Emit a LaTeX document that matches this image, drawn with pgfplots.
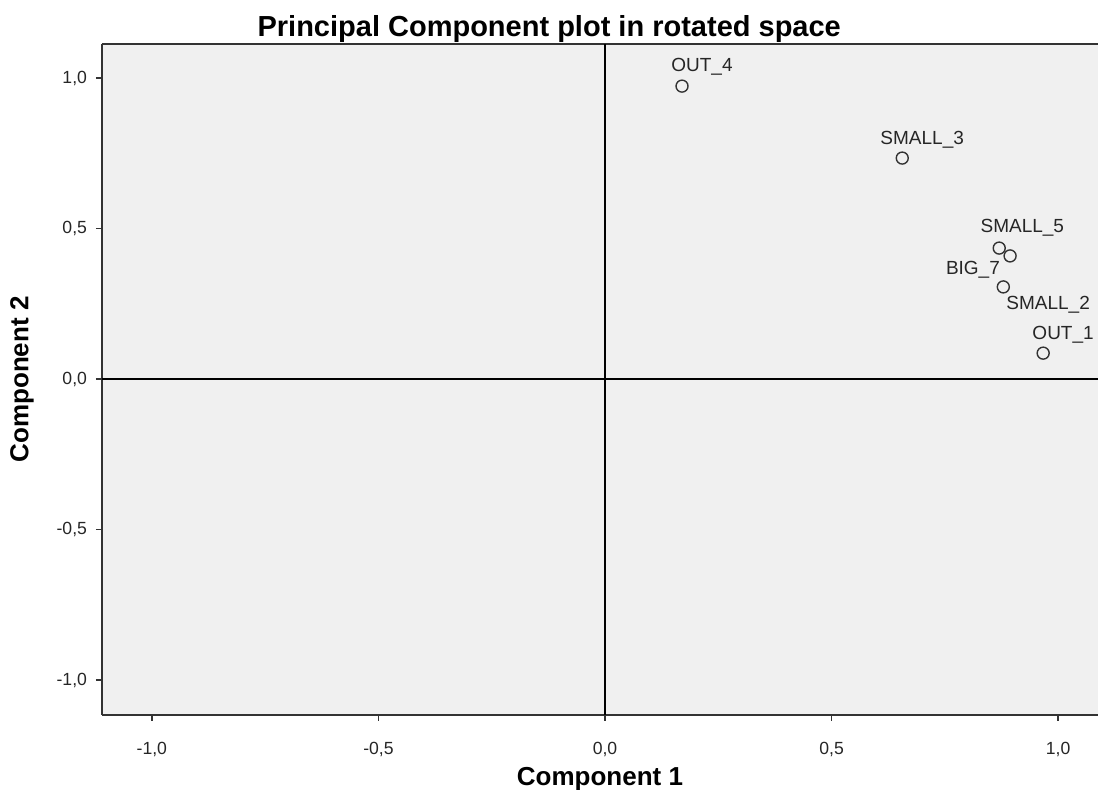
\documentclass[border=0pt]{standalone}
\usepackage{pgfplots}
\pgfplotsset{compat=1.18}
\usepackage{fontspec}
\setmainfont{Liberation Sans}
\begin{document}
\begin{tikzpicture}
\begin{axis}[
  scale only axis, width=498pt, height=335.5pt,
  xmin=-1.11, xmax=1.088, ymin=-1.116, ymax=1.113,
  axis x line*=bottom, axis y line*=left,
  axis line style={-, line width=1pt, black!80},
  axis background/.style={fill=black!6},
  xtick={-1,-0.5,0,0.5,1}, xticklabels={{-1,0},{-0,5},{0,0},{0,5},{1,0}},
  ytick={-1,-0.5,0,0.5,1}, yticklabels={{-1,0},{-0,5},{0,0},{0,5},{1,0}},
  tick style={black!80, line width=0.8pt}, tick align=outside, major tick length=3pt,
  tick label style={font=\fontsize{8.8}{10}\selectfont, text=black!85},
  xticklabel style={yshift=-7pt},
  yticklabel style={xshift=-1pt},
  xlabel={Component 1}, ylabel={Component 2},
  label style={font=\bfseries\fontsize{13}{15}\selectfont},
  x label style={at={(axis description cs:0.5,-0.0955)}, anchor=center},
  y label style={at={(axis description cs:-0.0803,0.5)}, anchor=center},
  clip=false,
]
\coordinate (SW) at (rel axis cs:0,0);
\coordinate (NE) at (rel axis cs:1,1);
\draw[black!80, line width=1pt] (rel axis cs:0,1) -- (rel axis cs:1,1);
\node[font=\bfseries\fontsize{14.5}{16}\selectfont, anchor=center] at (axis description cs:0.449,1.0224) {Principal Component plot in rotated space};
\addplot[black, line width=1pt, forget plot] coordinates {(0,-1.116) (0,1.113)};
\addplot[black, line width=1pt, forget plot] coordinates {(-1.11,0) (1.088,0)};
\addplot[only marks, mark=o, mark size=3pt, mark options={black!80, line width=0.7pt}] coordinates {
  (0.170,0.973)
  (0.656,0.734)
  (0.870,0.435)
  (0.894,0.409)
  (0.879,0.306)
  (0.967,0.086)
};
\begin{scope}[every node/.style={font=\fontsize{9.5}{11}\selectfont, text=black!85}]
\node at (axis cs:0.214,1.037) {OUT\_4};
\node at (axis cs:0.700,0.794) {SMALL\_3};
\node at (axis cs:0.921,0.502) {SMALL\_5};
\node at (axis cs:0.812,0.362) {BIG\_7};
\node at (axis cs:0.978,0.246) {SMALL\_2};
\node at (axis cs:1.011,0.146) {OUT\_1};
\end{scope}
\end{axis}
\pgfresetboundingbox
\path[use as bounding box] ([xshift=-51pt,yshift=-37.5pt]SW) rectangle ([yshift=22pt]NE);
\end{tikzpicture}
\end{document}
